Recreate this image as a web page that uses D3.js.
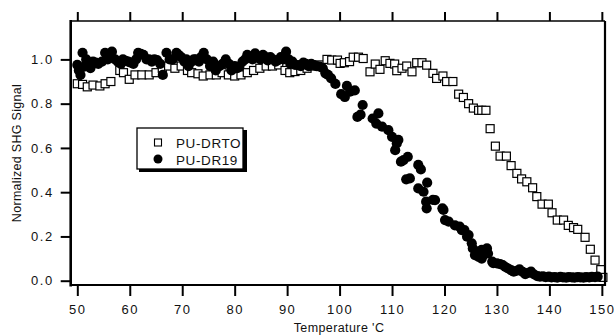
<!DOCTYPE html>
<html>
<head>
<meta charset="utf-8">
<script src="https://cdn.jsdelivr.net/npm/d3@7/dist/d3.min.js"></script>
<style>
  html, body { margin: 0; padding: 0; background: #fff; }
  svg { display: block; }
  text { font-family: "Liberation Sans", Arial, sans-serif; fill: #111; }
</style>
</head>
<body>
<svg id="chart" width="614" height="335"></svg>
<script>
// ---------- data ----------
const xTicks = [50, 60, 70, 80, 90, 100, 110, 120, 130, 140, 150];
const yTicks = [0.0, 0.2, 0.4, 0.6, 0.8, 1.0];
const seriesNames = ["PU-DRTO", "PU-DR19"];

// PU-DRTO (open squares)
const drtoT = [50.0, 51.0, 51.9, 53.0, 54.3, 55.3, 56.4, 58.1, 58.8, 59.9, 61.0, 62.3, 63.7, 65.0, 66.2, 67.4,
  68.6, 69.8, 71.0, 71.8, 73.0, 74.0, 75.3, 76.5, 77.6, 78.8, 80.0, 81.2, 82.4, 83.6, 84.8, 86.0, 87.2,
  88.4, 89.6, 90.5, 91.5, 92.6, 93.8, 95.0, 96.2, 97.6, 98.5, 99.6, 100.1, 100.9, 101.9, 102.6, 103.6,
  104.5, 105.8, 106.8, 107.7, 108.7, 109.6, 110.5, 110.9, 111.9, 112.8, 113.8, 114.7, 115.7, 116.6,
  117.8, 118.5, 119.7, 120.4, 121.6, 122.7, 123.6, 124.6, 125.5, 126.5, 127.1, 127.9, 128.7, 129.7,
  130.6, 131.8, 132.7, 133.8, 134.7, 135.7, 136.8, 137.6, 138.6, 139.8, 140.5, 141.5, 142.7, 143.6,
  144.6, 145.4, 146.8, 147.8, 148.7, 149.8, 150.2];
const drtoV = [0.89, 0.887, 0.876, 0.884, 0.88, 0.89, 0.90, 0.95, 0.94, 0.91, 0.93, 0.93, 0.93, 0.94, 0.96, 0.97,
  0.96, 0.97, 0.95, 0.94, 0.935, 0.925, 0.93, 0.93, 0.94, 0.93, 0.925, 0.93, 0.94, 0.95, 0.96, 0.97, 0.97,
  0.975, 0.95, 0.94, 0.945, 0.95, 0.96, 0.97, 0.975, 1.0, 0.997, 0.997, 0.982, 0.985, 0.99, 1.01, 1.01,
  1.004, 0.944, 0.979, 0.955, 0.994, 0.982, 0.979, 0.949, 0.96, 0.97, 0.944, 0.985, 0.985, 0.974,
  0.937, 0.914, 0.925, 0.90, 0.90, 0.843, 0.828, 0.80, 0.78, 0.77, 0.77, 0.77, 0.687, 0.608,
  0.563, 0.563, 0.52, 0.485, 0.46, 0.447, 0.42, 0.38, 0.346, 0.346, 0.307, 0.274, 0.274, 0.25,
  0.24, 0.232, 0.196, 0.142, 0.093, 0.05, 0.015];

// PU-DR19 (filled circles)
const dr19T = [50.0, 50.3, 50.6, 51.0, 51.3, 51.7, 52.1, 52.5, 53.0, 53.5, 54.0, 54.7, 55.3, 55.8, 56.2, 56.6,
  57.2, 57.7, 58.3, 58.7, 59.2, 59.7, 60.2, 60.7, 61.2, 61.6, 62.1, 62.6, 63.2, 63.7, 64.2, 64.7, 65.2,
  65.8, 66.3, 67.0, 67.6, 68.2, 68.9, 69.3, 69.8, 70.4, 70.8, 71.2, 71.8, 72.2, 72.6, 73.2, 73.6, 74.1,
  74.7, 75.3, 75.9, 76.4, 77.1, 77.7, 78.3, 78.9, 79.4, 80.0, 80.5, 80.9, 81.5, 82.0, 82.4, 82.9, 83.4,
  83.9, 84.4, 84.9, 85.4, 85.9, 86.3, 86.8, 87.3, 87.8, 88.3, 88.8, 89.3, 89.8, 90.3, 90.6, 91.0, 91.5,
  92.1, 92.6, 93.1, 93.6, 94.1, 94.6, 95.1, 95.6, 96.2, 96.8, 97.3, 97.8, 98.4, 99.2, 100.3, 101.0,
  101.4, 102.0, 102.9, 103.4, 104.0, 104.4, 106.3, 107.0, 107.4, 108.1, 109.3, 110.0, 110.6, 110.9,
  111.2, 111.7, 112.2, 112.7, 113.0, 113.4, 115.0, 115.5, 115.0, 116.0, 116.7, 116.5, 116.6, 117.8,
  118.2, 119.6, 119.8, 120.1, 120.8, 122.0, 122.9, 123.3, 123.8, 124.3, 124.6, 125.2, 125.4, 125.8,
  126.1, 126.5, 127.1, 127.1, 127.4, 128.1, 128.3, 129.1, 129.3, 130.0, 130.6, 131.1, 131.6, 132.1,
  132.7, 133.2, 133.8, 134.3, 134.9, 135.4, 136.0, 136.5, 137.1, 137.7, 138.2, 138.8, 139.3, 139.9,
  140.4, 141.0, 141.5, 142.1, 142.6, 143.2, 143.7, 144.3, 144.8, 145.4, 145.9, 146.5, 147.0, 147.6,
  148.1, 148.7, 149.2];
const dr19V = [0.975, 0.95, 0.93, 1.03, 0.967, 1.0, 0.98, 0.96, 0.99, 0.985, 0.98, 0.99, 1.03, 1.0, 1.02, 1.035,
  1.0, 0.99, 0.98, 1.0, 0.994, 0.99, 0.985, 0.98, 1.0, 1.03, 1.025, 1.02, 1.0, 1.0, 0.99, 1.0, 0.997,
  0.98, 0.93, 1.03, 1.0, 1.0, 1.03, 1.02, 1.01, 0.99, 1.0, 0.97, 0.99, 1.0, 1.0, 0.99, 1.01, 1.03,
  1.0, 0.97, 0.99, 0.95, 0.97, 0.98, 1.0, 0.98, 0.95, 0.97, 0.96, 0.967, 0.99, 1.0, 1.02, 1.01, 1.0,
  1.027, 1.01, 1.0, 1.02, 1.01, 0.995, 1.01, 1.0, 0.99, 0.997, 1.01, 1.0, 1.035, 1.0, 0.98, 0.99, 0.975,
  0.974, 0.97, 0.985, 0.98, 0.97, 0.98, 0.974, 0.97, 0.967, 0.96, 0.937, 0.93, 0.914, 0.889, 0.843, 0.83,
  0.88, 0.854, 0.86, 0.74, 0.75, 0.794, 0.733, 0.71, 0.756, 0.696, 0.68, 0.65, 0.59, 0.62,
  0.636, 0.538, 0.545, 0.458, 0.56, 0.462, 0.523, 0.503, 0.417, 0.402, 0.443, 0.357, 0.327, 0.365,
  0.364, 0.327, 0.32, 0.274, 0.267, 0.25, 0.244, 0.229, 0.229, 0.199, 0.206, 0.169, 0.146, 0.116,
  0.131, 0.108, 0.139, 0.10, 0.116, 0.146, 0.123, 0.086, 0.079, 0.078, 0.075, 0.071, 0.062, 0.056,
  0.048, 0.041, 0.045, 0.051, 0.04, 0.03, 0.035, 0.041, 0.028, 0.021, 0.018, 0.02, 0.016, 0.018,
  0.015, 0.016, 0.014, 0.017, 0.015, 0.014, 0.016, 0.015, 0.014, 0.016, 0.015, 0.014, 0.016, 0.015,
  0.017, 0.016, 0.018];

// ---------- drawing ----------
const svg = d3.select("#chart");
const L = 70.7, R = 605, T = 21, B = 285;

const x = d3.scaleLinear().domain([48.74, 150.6]).range([L, R]);
const y = d3.scaleLinear().domain([-0.0194, 1.1735]).range([B, T]);

// data layers
const g = svg.append("g");
const s = 8;
g.selectAll("rect.drto")
  .data(drtoT.map((t, i) => [t, drtoV[i]]))
  .enter().append("rect")
  .attr("class", "drto")
  .attr("x", d => x(d[0]) - s / 2)
  .attr("y", d => y(d[1]) - s / 2)
  .attr("width", s).attr("height", s)
  .attr("fill", "#fff")
  .attr("stroke", "#000")
  .attr("stroke-width", 1.2);

g.selectAll("circle.dr19")
  .data(dr19T.map((t, i) => [t, dr19V[i]]))
  .enter().append("circle")
  .attr("class", "dr19")
  .attr("cx", d => x(d[0]))
  .attr("cy", d => y(d[1]))
  .attr("r", 5.1)
  .attr("fill", "#000");

// axes
const fmtY = d3.format(".1f");
const ax = svg.append("g").attr("transform", `translate(0,${B})`)
  .call(d3.axisBottom(x).tickValues(xTicks).tickSize(11).tickSizeOuter(0).tickFormat(d3.format("d")));
ax.select(".domain").remove();
ax.selectAll("line").attr("stroke", "#000").attr("stroke-width", 2);
ax.selectAll("text").attr("y", 29).attr("dy", null)
  .style("font-size", "13px").style("letter-spacing", "1.5px").attr("fill", "#111");

const axTop = svg.append("g").attr("transform", `translate(0,${T})`)
  .call(d3.axisTop(x).tickValues(xTicks).tickSize(9).tickSizeOuter(0).tickFormat(""));
axTop.select(".domain").remove();
axTop.selectAll("line").attr("stroke", "#000").attr("stroke-width", 2);

const ay = svg.append("g").attr("transform", `translate(${L},0)`)
  .call(d3.axisLeft(y).tickValues(yTicks).tickSize(10).tickPadding(7).tickSizeOuter(0).tickFormat(fmtY));
ay.select(".domain").remove();
ay.selectAll("line").attr("stroke", "#000").attr("stroke-width", 2);
ay.selectAll("text").style("font-size", "13px").style("letter-spacing", "1.5px").attr("fill", "#111");

// frame
svg.append("line").attr("x1", L).attr("x2", L).attr("y1", T - 1).attr("y2", B + 1.5).attr("stroke", "#000").attr("stroke-width", 2.6);
svg.append("line").attr("x1", L).attr("x2", R).attr("y1", B).attr("y2", B).attr("stroke", "#000").attr("stroke-width", 2.2);
svg.append("line").attr("x1", L).attr("x2", R).attr("y1", T).attr("y2", T).attr("stroke", "#000").attr("stroke-width", 1.6);
svg.append("line").attr("x1", R).attr("x2", R).attr("y1", T).attr("y2", B + 1).attr("stroke", "#000").attr("stroke-width", 2.2);

// axis titles
svg.append("text").attr("x", 339).attr("y", 332).attr("text-anchor", "middle")
  .style("font-size", "12.5px").style("letter-spacing", "0.4px").text("Temperature 'C");
svg.append("text").attr("transform", "translate(21,153) rotate(-90)").attr("text-anchor", "middle")
  .style("font-size", "12.5px").style("letter-spacing", "0.3px").text("Normalized SHG Signal");

// legend
const lg = svg.append("g");
lg.append("rect").attr("x", 139).attr("y", 130).attr("width", 108).attr("height", 42).attr("fill", "#000");
lg.append("rect").attr("x", 137).attr("y", 128).attr("width", 106).attr("height", 41)
  .attr("fill", "#fff").attr("stroke", "#000").attr("stroke-width", 1.3);
lg.append("rect").attr("x", 154.5).attr("y", 139).attr("width", 7).attr("height", 7)
  .attr("fill", "#fff").attr("stroke", "#000").attr("stroke-width", 1.1);
lg.append("circle").attr("cx", 158).attr("cy", 159).attr("r", 4.5).attr("fill", "#000");
lg.selectAll("text.lab").data(seriesNames).enter().append("text")
  .attr("class", "lab").attr("x", 176).attr("y", (d, i) => 147.5 + i * 17)
  .style("font-size", "13.5px").style("letter-spacing", "0.6px").text(d => d);
</script>
</body>
</html>
